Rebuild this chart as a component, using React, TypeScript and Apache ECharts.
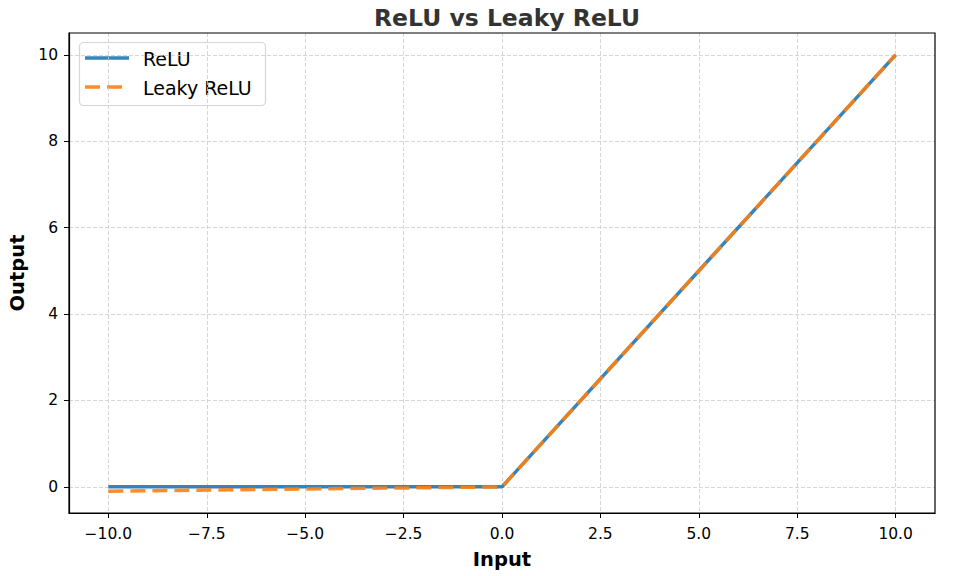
import * as echarts from "echarts";
import { useEffect, useRef } from "react";

// data
const inputs = [-10, 0, 10];
const reluValues = [0, 0, 10];
const leakyValues = [-0.1, 0, 10];

const xTicks = [-10, -7.5, -5, -2.5, 0, 2.5, 5, 7.5, 10];
const yTicks = [0, 2, 4, 6, 8, 10];

const FONT = "DejaVu Sans";
const BLUE = "#1f77b4";
const ORANGE = "#ff7f0e";
const minus = (s: string) => s.replace("-", "\u2212");

export default function App() {
  const chartRef = useRef<HTMLDivElement>(null);

  useEffect(() => {
    if (!chartRef.current) return;
    const chart = echarts.init(chartRef.current, undefined, { renderer: "svg" });

    const gridLine = { show: true, lineStyle: { color: "#cccccc", type: [4, 2], width: 0.8 } };

    chart.setOption({
      animation: false,
      backgroundColor: "#fff",
      textStyle: { fontFamily: FONT },
      title: {
        text: "ReLU vs Leaky ReLU",
        left: 502,
        top: 1,
        textAlign: "center",
        textStyle: { fontSize: 23.5, fontWeight: "bold", color: "#333", fontFamily: FONT },
      },
      grid: {
        left: 69,
        right: 24,
        top: 33,
        bottom: 63,
        containLabel: false,
        outerBoundsMode: "none",
      },
      xAxis: {
        type: "value",
        min: -11,
        max: 11,
        name: "Input",
        nameLocation: "middle",
        nameGap: 36,
        nameTextStyle: { fontSize: 19.5, fontWeight: "bold", color: "#000", fontFamily: FONT },
        axisLine: { onZero: false, lineStyle: { color: "#000", width: 1.2 } },
        axisTick: { show: true, length: 5, customValues: xTicks, lineStyle: { color: "#000" } },
        axisLabel: {
          fontSize: 15.5,
          color: "#000",
          margin: 13,
          customValues: xTicks,
          formatter: (v: number) => minus(v.toFixed(1)),
        },
        splitLine: gridLine,
      },
      yAxis: {
        type: "value",
        min: -0.605,
        max: 10.505,
        name: "Output",
        nameLocation: "middle",
        nameGap: 39,
        nameTextStyle: { fontSize: 19.5, fontWeight: "bold", color: "#000", fontFamily: FONT },
        axisLine: { show: true, onZero: false, lineStyle: { color: "#000", width: 1.2 } },
        axisTick: { show: true, length: 5, customValues: yTicks, lineStyle: { color: "#000" } },
        axisLabel: {
          fontSize: 15.5,
          color: "#000",
          margin: 11,
          customValues: yTicks,
          formatter: (v: number) => String(v),
        },
        splitLine: gridLine,
      },
      series: [
        {
          name: "ReLU",
          type: "line",
          symbol: "none",
          data: inputs.map((x, i) => [x, reluValues[i]]),
          lineStyle: { color: BLUE, width: 3.5, opacity: 0.9 },
        },
        {
          name: "Leaky ReLU",
          type: "line",
          symbol: "none",
          data: inputs.map((x, i) => [x, leakyValues[i]]),
          lineStyle: { color: ORANGE, width: 3.5, opacity: 0.9, type: [15, 7] },
        },
      ],
      graphic: [
        // frame (top / right spines)
        {
          type: "rect",
          silent: true,
          z: 100,
          shape: { x: 69, y: 33, width: 866, height: 480 },
          style: { fill: "none", stroke: "#000", lineWidth: 1.2 },
        },
        // legend
        {
          type: "group",
          z: 110,
          children: [
            {
              type: "rect",
              shape: { x: 79.5, y: 42.5, width: 186, height: 63, r: 4 },
              style: { fill: "rgba(255,255,255,0.85)", stroke: "#d6d6d6", lineWidth: 1.2 },
            },
            {
              type: "line",
              shape: { x1: 85, y1: 58, x2: 129, y2: 58 },
              style: { stroke: BLUE, lineWidth: 3.5, opacity: 0.9 },
            },
            {
              type: "text",
              x: 143,
              y: 59,
              style: { text: "ReLU", fontSize: 19, fill: "#000", fontFamily: FONT, verticalAlign: "middle" },
            },
            {
              type: "line",
              shape: { x1: 85, y1: 87, x2: 129, y2: 87 },
              style: { stroke: ORANGE, lineWidth: 3.5, opacity: 0.9, lineDash: [15, 7] },
            },
            {
              type: "text",
              x: 143,
              y: 88,
              style: { text: "Leaky ReLU", fontSize: 19, fill: "#000", fontFamily: FONT, verticalAlign: "middle" },
            },
          ],
        },
      ],
    });

    return () => chart.dispose();
  }, []);

  return (
    <div
      ref={chartRef}
      style={{ position: "absolute", left: 0, top: 0, width: 959, height: 576 }}
    />
  );
}
